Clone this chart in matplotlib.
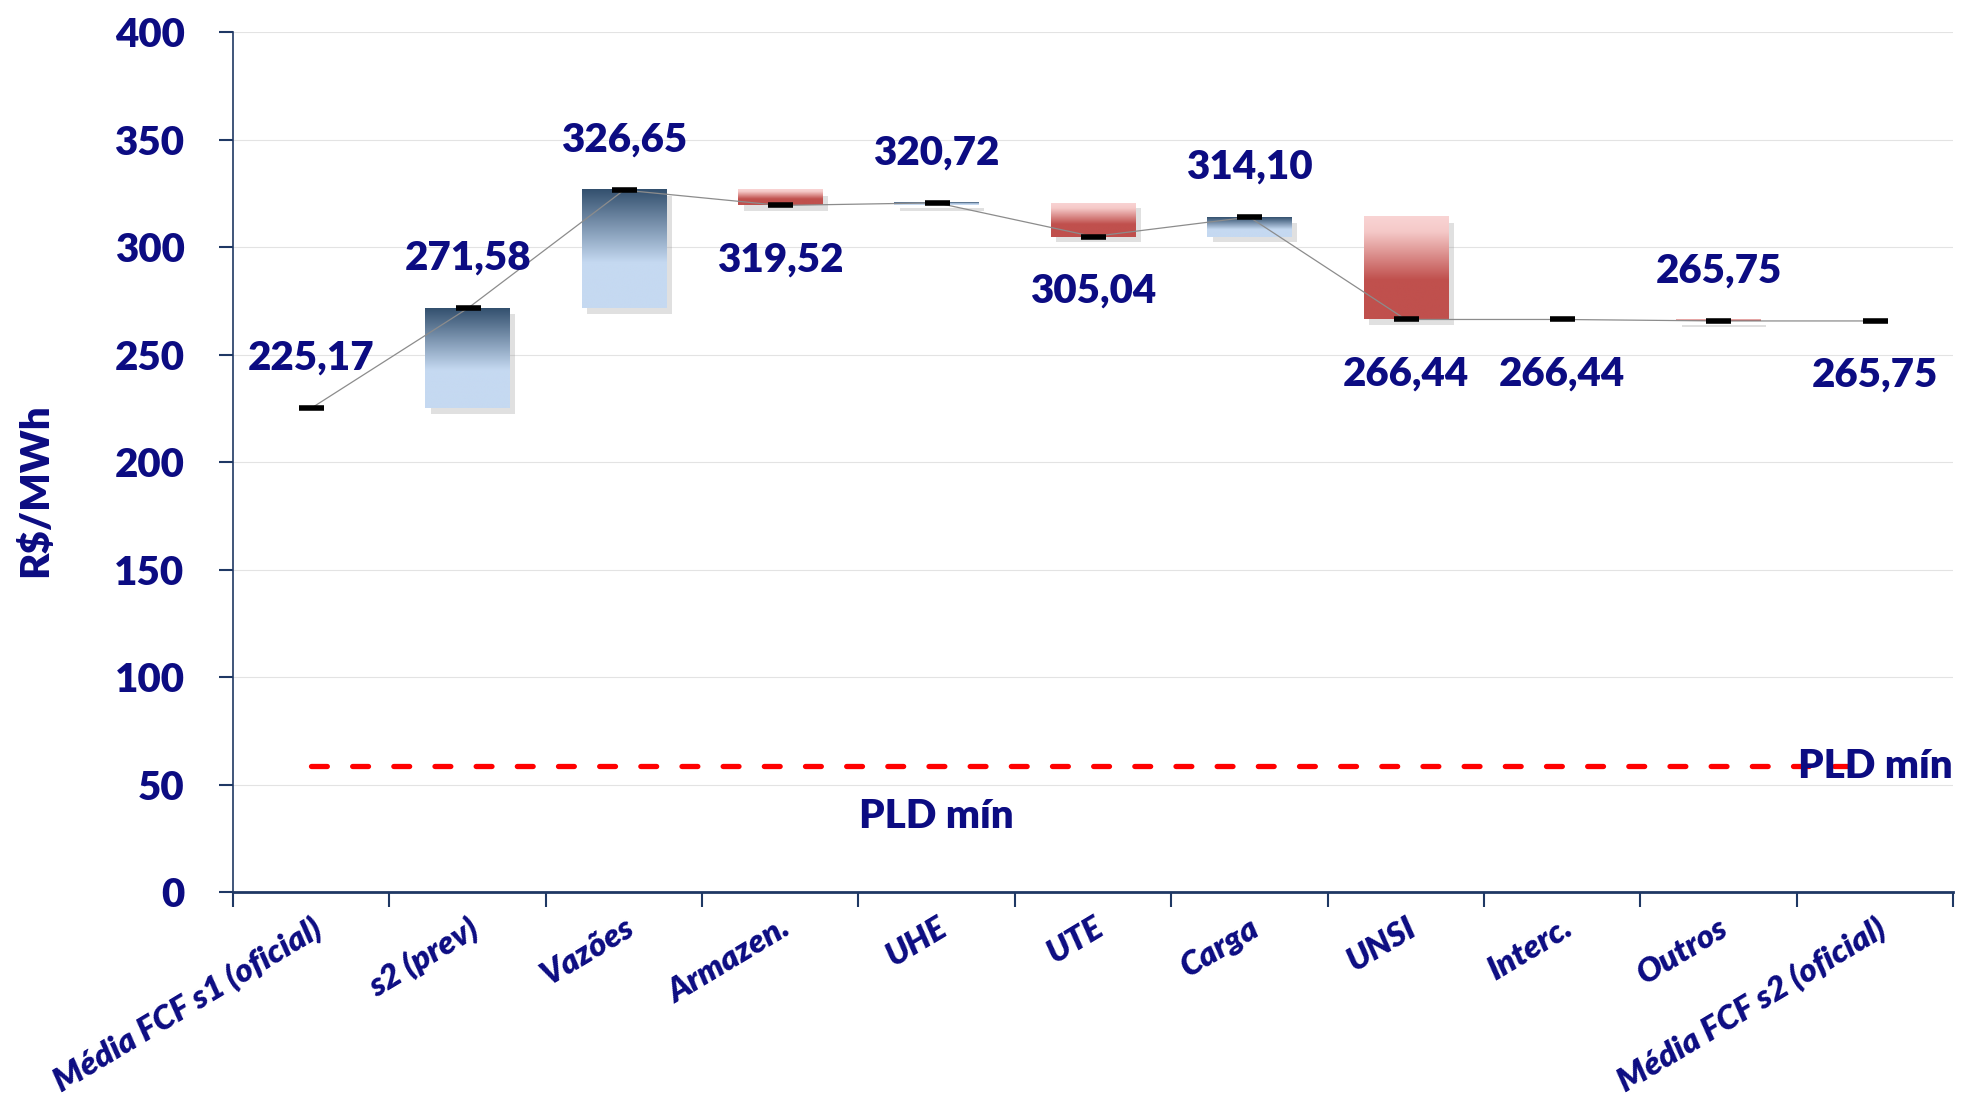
import matplotlib
matplotlib.use("Agg")
import matplotlib.pyplot as plt
import matplotlib.patheffects as pe
from matplotlib.colors import LinearSegmentedColormap
from matplotlib.patches import Rectangle
from matplotlib.transforms import ScaledTranslation
import numpy as np

# data
categories = ["Média FCF s1 (oficial)", "s2 (prev)", "Vazões", "Armazen.", "UHE", "UTE",
              "Carga", "UNSI", "Interc.", "Outros", "Média FCF s2 (oficial)"]
values = [225.17, 271.58, 326.65, 319.52, 320.72, 305.04, 314.10, 266.44, 266.44, 265.75, 265.75]
label_side = ["above", "above", "above", "below", "above", "below",
              "above", "below", "below", "above", "below"]
pld_min = 58.60
y_ticks = list(range(0, 401, 50))

navy = "#0C0C82"
axis_col = "#1F3864"
wt = "heavy"

plt.rcParams["font.family"] = ["Lato", "DejaVu Sans"]
plt.rcParams["font.weight"] = wt

fig = plt.figure(figsize=(19.62, 11.09), dpi=100)
ax = fig.add_axes([0.1188, 0.1957, 0.8766, 0.775])

blue_cm = LinearSegmentedColormap.from_list(
    "up", [(0, "#33506E"), (0.62, "#C5D9F1"), (1, "#C5D9F1")])
red_cm = LinearSegmentedColormap.from_list(
    "down", [(0, "#F9D4D4"), (0.15, "#F5C9C8"), (0.62, "#C0504D"), (1, "#C0504D")])
grad = np.linspace(0, 1, 256).reshape(-1, 1)

x = np.arange(len(categories))
w = 0.54

# waterfall bars (steps between consecutive values)
for i in range(1, len(values) - 1):
    lo, hi = sorted((values[i - 1], values[i]))
    if hi - lo < 1e-6:
        continue
    cm = blue_cm if values[i] > values[i - 1] else red_cm
    rect = Rectangle((i - w / 2, lo), w, hi - lo, facecolor="white", edgecolor="none", zorder=2,
                     path_effects=[pe.SimplePatchShadow(offset=(4, -4), shadow_rgbFace="#999999", alpha=0.3),
                                   pe.Normal()])
    ax.add_patch(rect)
    ax.imshow(grad, cmap=cm, extent=[i - w / 2, i + w / 2, lo, hi], aspect="auto",
              origin="upper", zorder=3, interpolation="bilinear")

# connector line and value markers
ax.plot(x, values, color="#8C8C8C", lw=0.9, zorder=4)
ax.plot(x, values, ls="none", marker="_", ms=18, mew=4, color="black", zorder=5)

# PLD min line
ax.plot(x, [pld_min] * len(x), color="#FF0000", lw=3.8, dashes=(3.0, 4.8),
        dash_capstyle="round", zorder=2)

for xi, v, side in zip(x, values, label_side):
    off = 36 if side == "above" else -39
    ax.annotate(f"{v:.2f}".replace(".", ","), (xi, v), xytext=(0, off), textcoords="offset points",
                ha="center", va="center", fontsize=29, color=navy, fontweight=wt, zorder=6)

ax.annotate("PLD mín", (4, pld_min), xytext=(0, -36), textcoords="offset points",
            ha="center", va="center", fontsize=29, color=navy, fontweight=wt)
ax.text(10.5, pld_min, "PLD mín", ha="right", va="center", fontsize=29, color=navy,
        fontweight=wt, zorder=6, clip_on=False)

# axes
ax.set_xlim(-0.5, 10.5)
ax.set_ylim(0, 400)
ax.set_yticks(y_ticks)
ax.set_xticks(np.arange(-0.5, 11, 1))
ax.set_xticklabels([])
ax.set_xticks(x, minor=True)
ax.set_xticklabels(categories, minor=True, rotation=31, ha="right", va="top",
                   rotation_mode="anchor", fontsize=24, fontstyle="italic", color=navy)
shift = ScaledTranslation(6 / 100, 0, fig.dpi_scale_trans)
for lab in ax.get_xticklabels(minor=True):
    lab.set_transform(lab.get_transform() + shift)

ax.tick_params(axis="x", which="minor", length=0, pad=15)
ax.tick_params(axis="x", which="major", length=11, width=1.5, color=axis_col, direction="out")
ax.tick_params(axis="y", length=10, width=1.5, color=axis_col, pad=25, labelsize=29, labelcolor=navy)

ax.yaxis.grid(True, color="#E3E3E3", lw=0.8)
ax.set_axisbelow(True)
for s in ["top", "right"]:
    ax.spines[s].set_visible(False)
ax.spines["left"].set_color(axis_col)
ax.spines["left"].set_linewidth(1.2)
ax.spines["bottom"].set_color(axis_col)
ax.spines["bottom"].set_linewidth(2)

ax.set_ylabel("R$/MWh", fontsize=29, color=navy, fontweight=wt)
ax.yaxis.set_label_coords(-0.104, 0.467)

fig.savefig("out.png", dpi=100)
